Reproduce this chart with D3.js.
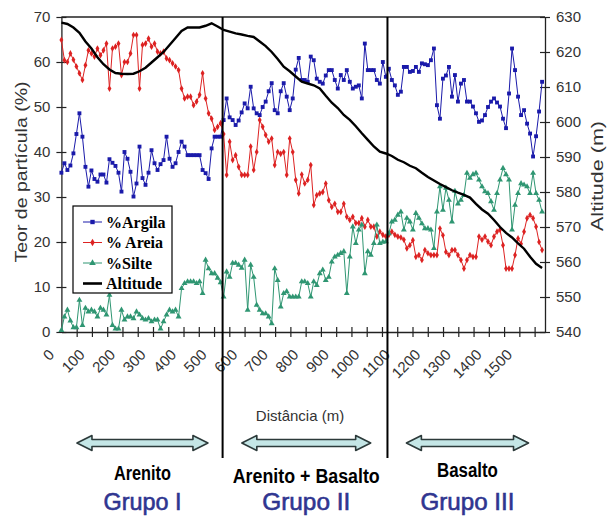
<!DOCTYPE html>
<html>
<head>
<meta charset="utf-8">
<script src="https://cdn.jsdelivr.net/npm/d3@7"></script>
<style>
  body { margin: 0; background: #fff; }
  svg { display: block; }
</style>
</head>
<body>
<svg id="chart" width="613" height="520"></svg>
<script>
// espacamento das amostras ao longo do transecto (m)
var passo = 9.84;

var argila = [35.4, 37.5, 36, 37, 39.7, 44, 48.6, 43.4, 36.7, 32.3,
  35.9, 34, 33.4, 35, 35, 33.2, 38.4, 37.6, 36.9, 35.4,
  31.2, 40, 38.5, 35.6, 30.1, 33, 41.2, 34.2, 32.7, 35.4,
  40.4, 37.5, 36, 37.3, 38.2, 43.4, 38.5, 36.7, 37.5, 40,
  42.3, 41.2, 39.3, 39.3, 39.3, 39.3, 39.3, 36, 35.3, 34,
  40.8, 43.4, 43.4, 43.4, 47.1, 51.9, 47.7, 47.1, 46, 47,
  48.8, 50.8, 49.7, 54.5, 49.7, 48.6, 48.2, 50, 51.2, 53.5,
  55.3, 49.3, 48.6, 53.5, 55.3, 52.3, 49.3, 51.9, 58.3, 60.9,
  56, 56, 55.6, 61.2, 60.4, 56.3, 55.6, 55.2, 57, 58.2,
  58.2, 56, 54.1, 57.1, 56, 58.2, 55.6, 54.1, 54.5, 54.8,
  51.9, 64.1, 58.2, 58.2, 58.2, 56, 55.2, 60, 56.7, 58.5,
  56, 54.8, 52.7, 53.4, 58.9, 58.9, 57.8, 58, 58.9, 57.8,
  59.7, 59.5, 59.3, 60.4, 63, 50.4, 47.4, 56.3, 57, 58.9,
  52.3, 57.1, 51.2, 55.2, 56, 51.2, 51.2, 50.1, 48.6, 46.7,
  47, 48.2, 50, 51.2, 51.9, 51, 50.1, 47.4, 45.3, 53,
  63, 58.2, 52.3, 48.2, 49.3, 46.3, 44.1, 39, 43.5, 49, 55.6];

var areia = [64.9, 60.4, 60, 61.9, 60.5, 59, 57.5, 56, 59.3, 62.6,
  61.9, 61.2, 63, 61.5, 62.6, 64.1, 54.1, 63, 63.4, 64.1,
  57.1, 60, 60, 61.9, 66, 66, 54.1, 63.8, 64.1, 65.2,
  63.4, 64.1, 62.3, 61.9, 62.3, 60.8, 60.4, 59.7, 59, 58.2,
  54.1, 51.9, 52.3, 52.3, 50.4, 51.2, 52.7, 57.5, 51.9, 48.6,
  47.4, 44.9, 45.6, 46.4, 44, 34.9, 42.3, 38.2, 39.3, 36.7,
  34.9, 34.9, 34.9, 41.2, 36, 40, 47.1, 45.6, 43.8, 42.3,
  43, 37.1, 40, 39.6, 40, 34.9, 43, 40, 33.8, 30.8,
  35, 33, 33.8, 37.1, 28.2, 30.4, 30.8, 31.1, 33, 29.3,
  27.8, 28.5, 26.7, 26.7, 28.5, 25.6, 24.9, 25.6, 24.2, 24.2,
  25.3, 23.4, 24.9, 23.4, 23.4, 21.2, 22.3, 21.6, 21.2, 21.6,
  22.3, 21.6, 21.2, 21, 20.5, 18.6, 19.3, 20.4, 16.7, 17.1,
  16, 18.2, 17.5, 17.1, 17.1, 17.1, 23, 21.5, 17.8, 17.1,
  18.2, 18.2, 17.1, 16, 14.1, 16, 17.1, 16.7, 16.7, 21.2,
  20.5, 21.2, 20.1, 19.3, 21.2, 22.3, 22.7, 19.3, 14.1, 14.1,
  14.1, 17.1, 20.8, 19.6, 22.3, 25.3, 26, 25.3, 23.4, 20, 18.2];

var silte = [0.4, 3.4, 4.9, 2.5, 1, 1, 7.1, 1.5, 5.3, 4.5,
  4.9, 4.5, 3.4, 5.3, 4.9, 3.8, 8.2, 1.5, 0.7, 0.7,
  4.9, 2.7, 3.4, 3.4, 3, 4.5, 3.8, 3, 2.7, 3,
  2.3, 2.7, 2.7, 0.7, 2.3, 3.8, 4.9, 4.5, 4.9, 3.4,
  9.7, 10.8, 11.2, 11.2, 11.2, 10.8, 11.2, 8.6, 16, 14.1,
  13, 13, 12, 11, 7.8, 13.4, 12.2, 15.3, 15.3, 14.9,
  14.2, 16, 4.9, 14.9, 12.2, 6, 4.9, 4.1, 4.1, 3.4,
  1.9, 14.1, 11.5, 5.6, 8.6, 9, 7.8, 7.8, 7.8, 7.8,
  11.2, 11.2, 10.8, 7.8, 11.2, 10.4, 13, 13.8, 11.5, 12.2,
  15.6, 16.7, 17.1, 17.5, 17.9, 8.6, 16.7, 23.4, 19.7, 22.7,
  23.8, 13, 17.9, 17.1, 19.7, 23.8, 19.7, 20, 20.1, 21.9,
  24.5, 24.9, 26, 26.7, 22.7, 25.3, 24.5, 22.7, 26.4, 25.3,
  24.1, 23, 23, 22.7, 18.6, 26.7, 32.3, 27.1, 32, 29.3,
  24.5, 31.3, 28.5, 29.3, 30.4, 35.3, 34.2, 35, 35.3, 33.8,
  32.3, 31.2, 30.8, 29, 27.1, 30.8, 33.8, 36.4, 35, 33.8,
  22.7, 28.2, 30.8, 33, 32.7, 32.3, 30.8, 35.3, 30.8, 29.3, 26.7];

// altitude lida a cada duas amostras
var altitude = [628.4, 628, 627, 625.5, 623, 621, 618.5, 616.5, 615, 614,
  613.8, 613.7, 613.8, 614.5, 615.5, 617, 618.5, 620, 622, 624,
  626, 627, 627, 627, 627.5, 628.2, 627.3, 626.3, 625.8, 625.3,
  625, 624.6, 624.3, 623, 621.7, 620, 618, 615.8, 614.5, 613,
  611.5, 611, 610.5, 609.6, 607.5, 605.5, 604, 602, 600.6, 598.8,
  596.8, 594.9, 593, 591.5, 591, 590.3, 589.2, 588.5, 587.5, 586.8,
  585.5, 584.3, 583.3, 582.3, 581.4, 580.5, 579.8, 579.2, 578.4, 576.6,
  575, 573.8, 572, 570, 568.3, 567, 565.3, 563.8, 561.5, 559.5, 558.3];

var xLabels = [0, 100, 200, 300, 400, 500, 600, 700, 800, 900, 1000, 1100, 1200, 1300, 1400, 1500];
var yLeftTicks = [0, 10, 20, 30, 40, 50, 60, 70];
var yRightTicks = [540, 550, 560, 570, 580, 590, 600, 610, 620, 630];

// limites entre grupos (m) e setas
var divisoes = [528, 1068];
var rochas = ["Arenito", "Arenito + Basalto", "Basalto"];
var grupos = ["Grupo I", "Grupo II", "Grupo III"];
var setaIni = [51, 591, 1130];
var setaFim = [480, 1013, 1530];

var series = [
  { name: "%Argila", values: argila, color: "#1a1aaa", symbol: d3.symbolSquare, size: 15 },
  { name: "% Areia", values: areia, color: "#dd2222", symbol: d3.symbolDiamond, size: 13 },
  { name: "%Silte", values: silte, color: "#2f9672", symbol: d3.symbolTriangle, size: 15 }
];

var svg = d3.select("#chart");
var pLeft = 61.4, pRight = 545, pTop = 17, pBottom = 332;

var x = d3.scaleLinear().domain([0, 1584]).range([pLeft, pRight]);
var y = d3.scaleLinear().domain([0, 70]).range([pBottom, pTop]);
var y2 = d3.scaleLinear().domain([540, 630]).range([pBottom, pTop]);

var fontAxis = "Arial, 'Liberation Sans', sans-serif";

// moldura superior
svg.append("line")
  .attr("x1", pLeft).attr("x2", pRight).attr("y1", pTop).attr("y2", pTop)
  .attr("stroke", "#222").attr("stroke-width", 1.3);

// eixo esquerdo
var gL = svg.append("g").attr("transform", "translate(" + pLeft + ",0)")
  .call(d3.axisLeft(y).tickValues(yLeftTicks).tickSize(5).tickSizeOuter(0).tickPadding(6));
gL.selectAll(".tick line").attr("x1", 5).attr("x2", -5);

// eixo direito
var gR = svg.append("g").attr("transform", "translate(" + pRight + ",0)")
  .call(d3.axisRight(y2).tickValues(yRightTicks).tickSize(5).tickSizeOuter(0).tickPadding(6));
gR.selectAll(".tick line").attr("x1", -5).attr("x2", 5);

// eixo x: tracos a cada 50 m
var gB = svg.append("g").attr("transform", "translate(0," + pBottom + ")")
  .call(d3.axisBottom(x).tickValues(d3.range(50, 1560, 50)).tickSize(5).tickSizeOuter(0).tickFormat(""));
gB.selectAll(".tick line").attr("y1", -5).attr("y2", 5);

[gL, gR, gB].forEach(function(g) {
  g.select(".domain").attr("stroke", "#222").attr("stroke-width", 1.3);
  g.selectAll(".tick line").attr("stroke", "#222").attr("stroke-width", 1.2);
  g.selectAll("text").attr("font-family", fontAxis).attr("font-size", 15).attr("fill", "#333");
});

svg.append("g").selectAll("text")
  .data(xLabels)
  .enter().append("text")
    .attr("transform", function(d) { return "translate(" + (x(d) - 10) + "," + 352 + ") rotate(-45)"; })
    .attr("text-anchor", "end")
    .attr("dy", "0.35em")
    .attr("font-family", fontAxis)
    .attr("font-size", 15)
    .attr("fill", "#333")
    .text(function(d) { return d; });

// titulos dos eixos
svg.append("text")
  .attr("transform", "translate(27,172) rotate(-90)")
  .attr("text-anchor", "middle")
  .attr("font-family", fontAxis).attr("font-size", 17).attr("fill", "#333")
  .attr("textLength", 181).attr("lengthAdjust", "spacingAndGlyphs")
  .text("Teor de partícula (%)");

svg.append("text")
  .attr("transform", "translate(603,176) rotate(-90)")
  .attr("text-anchor", "middle")
  .attr("font-family", fontAxis).attr("font-size", 17).attr("fill", "#333")
  .attr("textLength", 110).attr("lengthAdjust", "spacingAndGlyphs")
  .text("Altitude (m)");

svg.append("text")
  .attr("x", 300).attr("y", 421)
  .attr("text-anchor", "middle")
  .attr("font-family", fontAxis).attr("font-size", 15).attr("fill", "#333")
  .text("Distância (m)");

// series de teor
series.forEach(function(s) {
  var pts = s.values.map(function(v, i) { return [i * passo, v]; });
  svg.append("path")
    .datum(pts)
    .attr("fill", "none")
    .attr("stroke", s.color)
    .attr("stroke-width", 1)
    .attr("d", d3.line().x(function(d) { return x(d[0]); }).y(function(d) { return y(d[1]); }));
  svg.append("g").selectAll("path")
    .data(pts)
    .enter().append("path")
      .attr("transform", function(d) { return "translate(" + x(d[0]) + "," + y(d[1]) + ")"; })
      .attr("d", d3.symbol().type(s.symbol).size(s.size))
      .attr("fill", s.color);
});

// altitude
svg.append("path")
  .datum(altitude.map(function(v, i) { return [i * passo * 2, v]; }))
  .attr("fill", "none")
  .attr("stroke", "#000")
  .attr("stroke-width", 2.4)
  .attr("d", d3.line().x(function(d) { return x(d[0]); }).y(function(d) { return y2(d[1]); }));

// divisoes entre grupos
svg.append("g").selectAll("line")
  .data(divisoes)
  .enter().append("line")
    .attr("x1", function(d) { return x(d); }).attr("x2", function(d) { return x(d); })
    .attr("y1", pTop).attr("y2", 458)
    .attr("stroke", "#000").attr("stroke-width", 2);

// legenda
var leg = svg.append("g");
leg.append("rect")
  .attr("x", 73).attr("y", 206).attr("width", 99).attr("height", 87)
  .attr("fill", "#fff").attr("stroke", "#000").attr("stroke-width", 1.2);
var legItems = series.concat([{ name: "Altitude", color: "#000" }]);
legItems.forEach(function(s, i) {
  var ly = 222 + i * 20.5;
  leg.append("line")
    .attr("x1", 83).attr("x2", 102).attr("y1", ly).attr("y2", ly)
    .attr("stroke", s.color).attr("stroke-width", s.symbol ? 1 : 2.6);
  if (s.symbol) {
    leg.append("path")
      .attr("transform", "translate(92.5," + ly + ")")
      .attr("d", d3.symbol().type(s.symbol).size(s.size + 4))
      .attr("fill", s.color);
  }
  leg.append("text")
    .attr("x", 106).attr("y", ly).attr("dy", "0.35em")
    .attr("font-family", "'Times New Roman', 'Liberation Serif', serif")
    .attr("font-weight", "bold").attr("font-size", 16)
    .attr("fill", "#000")
    .text(s.name);
});

// setas duplas dos grupos
function seta(x0, x1, cy) {
  var sh = 3.5, hh = 7.5, hl = 15;
  return "M" + x0 + "," + cy +
    "L" + (x0 + hl) + "," + (cy - hh) + "L" + (x0 + hl) + "," + (cy - sh) +
    "L" + (x1 - hl) + "," + (cy - sh) + "L" + (x1 - hl) + "," + (cy - hh) +
    "L" + x1 + "," + cy +
    "L" + (x1 - hl) + "," + (cy + hh) + "L" + (x1 - hl) + "," + (cy + sh) +
    "L" + (x0 + hl) + "," + (cy + sh) + "L" + (x0 + hl) + "," + (cy + hh) + "Z";
}

var rochaY = [480, 483, 477];
var rochaW = [57, 147, 61];
var grupoW = [78, 88, 94];

grupos.forEach(function(g, i) {
  var a = x(setaIni[i]), b = x(setaFim[i]), cx = (a + b) / 2;
  svg.append("path")
    .attr("d", seta(a, b, 443))
    .attr("fill", "#c4e6e6")
    .attr("stroke", "#2c3a3a")
    .attr("stroke-width", 1.6)
    .attr("stroke-linejoin", "round");
  svg.append("text")
    .attr("x", cx).attr("y", rochaY[i])
    .attr("text-anchor", "middle")
    .attr("font-family", "'Liberation Sans Narrow', 'Arial Narrow', Arial, sans-serif")
    .attr("font-weight", "bold").attr("font-size", 20).attr("fill", "#000")
    .attr("textLength", rochaW[i]).attr("lengthAdjust", "spacingAndGlyphs")
    .text(rochas[i]);
  svg.append("text")
    .attr("x", cx).attr("y", 510)
    .attr("text-anchor", "middle")
    .attr("font-family", "Arial, 'Liberation Sans', sans-serif")
    .attr("font-size", 24).attr("fill", "#2f3590")
    .attr("stroke", "#2f3590").attr("stroke-width", 0.6)
    .attr("textLength", grupoW[i]).attr("lengthAdjust", "spacingAndGlyphs")
    .text(g);
});
</script>
</body>
</html>
